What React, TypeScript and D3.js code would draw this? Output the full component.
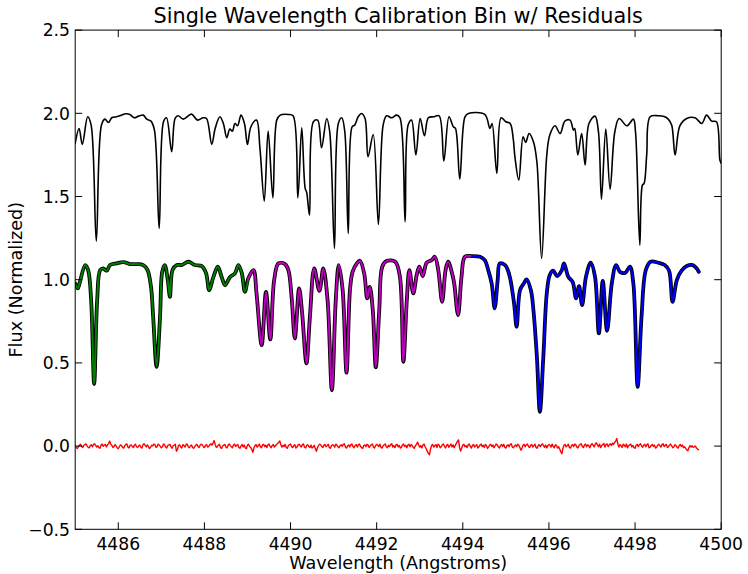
import React from 'react';
import * as d3 from 'd3';

// ---------- DATA ----------
const title = 'Single Wavelength Calibration Bin w/ Residuals';
const xLabel = 'Wavelength (Angstroms)';
const yLabel = 'Flux (Normalized)';
const xTicks = [4486, 4488, 4490, 4492, 4494, 4496, 4498, 4500];
const xTickLabels = ['4486', '4488', '4490', '4492', '4494', '4496', '4498', '4500'];
const yTicks = [-0.5, 0, 0.5, 1, 1.5, 2, 2.5];
const yTickLabels = ['\u22120.5', '0.0', '0.5', '1.0', '1.5', '2.0', '2.5'];

// template spectrum (offset by +1)
const templateSpectrum: [number, number][] = [
  [4485.00, 1.819], [4485.09, 1.909], [4485.165, 1.813], [4485.29, 1.979], [4485.37, 1.929],
  [4485.49, 1.232], [4485.61, 1.930], [4485.69, 1.965], [4485.77, 1.945], [4485.85, 1.973],
  [4485.96, 1.979], [4486.08, 1.989], [4486.17, 1.997], [4486.27, 1.993], [4486.37, 1.973],
  [4486.47, 1.983], [4486.58, 1.989], [4486.66, 1.965], [4486.76, 1.953], [4486.84, 1.899],
  [4486.95, 1.308], [4487.05, 1.949], [4487.12, 1.973], [4487.24, 1.769], [4487.32, 1.969],
  [4487.39, 1.985], [4487.51, 1.965], [4487.70, 1.995], [4487.84, 1.959], [4487.97, 1.973],
  [4488.05, 1.969], [4488.17, 1.813], [4488.25, 1.909], [4488.36, 1.979], [4488.44, 1.939],
  [4488.52, 1.853], [4488.59, 1.905], [4488.65, 1.893], [4488.71, 1.939], [4488.77, 1.925],
  [4488.85, 1.989], [4488.93, 1.939], [4489.00, 1.813], [4489.08, 1.919], [4489.21, 1.959],
  [4489.29, 1.789], [4489.39, 1.472], [4489.48, 1.893], [4489.59, 1.492], [4489.68, 1.959],
  [4489.76, 1.989], [4489.95, 1.993], [4490.06, 1.985], [4490.17, 1.492], [4490.26, 1.913],
  [4490.34, 1.549], [4490.375, 1.525], [4490.44, 1.388], [4490.53, 1.949], [4490.63, 1.959],
  [4490.72, 1.793], [4490.84, 1.969], [4490.91, 1.889], [4491.02, 1.188], [4491.11, 1.939],
  [4491.19, 1.973], [4491.26, 1.889], [4491.34, 1.278], [4491.43, 1.919], [4491.49, 1.929],
  [4491.57, 1.979], [4491.65, 1.999], [4491.73, 1.969], [4491.80, 1.739], [4491.92, 1.873],
  [4492.04, 1.332], [4492.15, 1.929], [4492.23, 1.985], [4492.35, 1.973], [4492.46, 1.989],
  [4492.54, 1.973], [4492.66, 1.348], [4492.73, 1.929], [4492.81, 1.959], [4492.91, 1.749],
  [4493.01, 1.969], [4493.11, 1.865], [4493.20, 1.973], [4493.32, 1.979], [4493.45, 1.985],
  [4493.56, 1.713], [4493.68, 1.979], [4493.78, 1.919], [4493.83, 1.909], [4493.93, 1.605],
  [4494.05, 1.979], [4494.13, 1.999], [4494.51, 1.993], [4494.63, 1.909], [4494.68, 1.939],
  [4494.79, 1.639], [4494.89, 1.973], [4495.00, 1.949], [4495.10, 1.939], [4495.17, 1.849],
  [4495.21, 1.739], [4495.30, 1.599], [4495.40, 1.859], [4495.46, 1.825], [4495.54, 1.879],
  [4495.64, 1.829], [4495.72, 1.709], [4495.83, 1.128], [4495.95, 1.749], [4496.02, 1.869],
  [4496.14, 1.925], [4496.26, 1.879], [4496.37, 1.953], [4496.49, 1.959], [4496.57, 1.899],
  [4496.60, 1.909], [4496.67, 1.749], [4496.76, 1.879], [4496.84, 1.689], [4496.93, 1.939],
  [4497.07, 1.983], [4497.15, 1.889], [4497.22, 1.484], [4497.32, 1.905], [4497.42, 1.544],
  [4497.53, 1.889], [4497.63, 1.969], [4497.81, 1.925], [4497.96, 1.965], [4498.01, 1.889],
  [4498.11, 1.208], [4498.17, 1.568], [4498.21, 1.579], [4498.27, 1.749], [4498.35, 1.979],
  [4498.54, 1.985], [4498.69, 1.979], [4498.77, 1.965], [4498.85, 1.929], [4498.93, 1.749],
  [4499.04, 1.925], [4499.20, 1.969], [4499.39, 1.973], [4499.55, 1.939], [4499.66, 1.989],
  [4499.78, 1.953], [4499.89, 1.949], [4499.97, 1.719], [4500.00, 1.700],
];

// model fit, first section (green)
const modelGreen: [number, number][] = [
  [4485.00, 0.978], [4485.06, 0.948], [4485.11, 0.987], [4485.23, 1.088], [4485.30, 1.058],
  [4485.37, 0.877], [4485.44, 0.373], [4485.51, 0.877], [4485.58, 1.058], [4485.65, 1.068],
  [4485.73, 1.054], [4485.81, 1.088], [4485.96, 1.098], [4486.12, 1.106], [4486.27, 1.094],
  [4486.43, 1.094], [4486.58, 1.088], [4486.68, 1.058], [4486.76, 0.957], [4486.81, 0.777],
  [4486.89, 0.477], [4486.97, 0.777], [4487.02, 1.047], [4487.08, 1.088], [4487.15, 0.998],
  [4487.20, 0.897], [4487.26, 1.058], [4487.36, 1.088], [4487.47, 1.088], [4487.63, 1.108],
  [4487.78, 1.088], [4487.94, 1.082], [4488.04, 1.038], [4488.11, 0.938], [4488.21, 1.017],
  [4488.31, 1.078], [4488.40, 1.017], [4488.48, 0.968], [4488.59, 1.014], [4488.71, 1.038],
  [4488.79, 1.088], [4488.87, 1.038], [4488.94, 0.927], [4489.02, 1.008],
];

// model fit, second section (magenta)
const modelMagenta: [number, number][] = [
  [4489.02, 1.008], [4489.14, 1.058], [4489.21, 0.918], [4489.33, 0.607], [4489.43, 0.927],
  [4489.53, 0.641], [4489.62, 0.998], [4489.72, 1.098], [4489.87, 1.094], [4489.95, 1.058],
  [4490.03, 0.877], [4490.10, 0.647], [4490.20, 0.948], [4490.27, 0.797], [4490.37, 0.497],
  [4490.45, 0.777], [4490.55, 1.068], [4490.67, 0.933], [4490.76, 1.068], [4490.86, 0.877],
  [4490.96, 0.337], [4491.05, 0.877], [4491.12, 1.088], [4491.21, 0.938], [4491.30, 0.441],
  [4491.38, 0.938], [4491.44, 1.047], [4491.54, 1.098], [4491.61, 1.114], [4491.71, 1.038],
  [4491.78, 0.888], [4491.84, 0.957], [4491.91, 0.817], [4491.98, 0.473], [4492.06, 0.817],
  [4492.13, 1.078], [4492.23, 1.112], [4492.43, 1.108], [4492.54, 1.017], [4492.62, 0.507],
  [4492.70, 0.877], [4492.76, 1.058], [4492.85, 0.918], [4492.93, 1.028], [4492.99, 1.078],
  [4493.07, 1.022], [4493.16, 1.102], [4493.28, 1.118], [4493.35, 1.138], [4493.43, 1.058],
  [4493.52, 0.867], [4493.60, 1.058], [4493.66, 1.108], [4493.76, 1.028], [4493.80, 0.978],
  [4493.89, 0.787], [4493.97, 1.017], [4494.05, 1.138], [4494.21, 1.142],
];

// model fit, third section (blue)
const modelBlue: [number, number][] = [
  [4494.21, 1.142], [4494.40, 1.138], [4494.51, 1.118], [4494.59, 1.058], [4494.67, 0.978],
  [4494.74, 0.828], [4494.81, 0.998], [4494.86, 1.098], [4494.98, 1.088], [4495.03, 1.068],
  [4495.10, 1.008], [4495.19, 0.858], [4495.25, 0.717], [4495.33, 0.938], [4495.42, 0.978],
  [4495.48, 1.002], [4495.58, 0.938], [4495.64, 0.817], [4495.72, 0.537], [4495.79, 0.206],
  [4495.87, 0.537], [4495.95, 0.918], [4496.02, 1.028], [4496.10, 1.054], [4496.19, 1.022],
  [4496.30, 1.058], [4496.35, 1.098], [4496.45, 1.017], [4496.55, 0.987], [4496.63, 0.888],
  [4496.70, 0.961], [4496.77, 0.847], [4496.86, 1.017], [4496.97, 1.102], [4497.07, 1.017],
  [4497.16, 0.677], [4497.25, 0.993], [4497.35, 0.693], [4497.46, 0.978], [4497.56, 1.088],
  [4497.65, 1.047], [4497.77, 1.041], [4497.88, 1.078], [4497.96, 0.978], [4498.06, 0.356],
  [4498.15, 0.777], [4498.25, 1.058], [4498.36, 1.108], [4498.54, 1.102], [4498.69, 1.088],
  [4498.79, 1.054], [4498.87, 0.867], [4498.97, 0.998], [4499.08, 1.054], [4499.20, 1.082],
  [4499.34, 1.088], [4499.43, 1.068], [4499.48, 1.047],
];

// residuals, sampled every 0.025 A from 4485.000
const residualStart = 4485.0;
const residualStep = 0.025;
const residuals = [
  0.004, -0.010, -0.014, -0.003, 0.006, 0.011, -0.002, -0.009, 0.005, 0.009, 0.013, 0.001, -0.007, -0.011, 0.003, 0.008, -0.004, 0.010, 0.014, 0.004,
  -0.006, 0.002, -0.009, -0.013, 0.007, 0.012, -0.001, 0.006, 0.010, -0.005, 0.008, 0.015, 0.030, 0.012, 0.004, -0.008, -0.003, 0.009, 0.002, -0.010,
  -0.016, -0.004, 0.007, 0.003, -0.008, -0.012, 0.001, 0.010, 0.013, -0.006, -0.011, 0.004, 0.007, -0.002, -0.009, 0.006, 0.011, -0.004, -0.008, 0.002,
  0.006, -0.007, -0.012, 0.009, 0.014, 0.003, -0.005, 0.008, -0.003, -0.015, -0.006, 0.005, 0.002, 0.011, 0.009, -0.007, -0.004, 0.012, 0.006, -0.002,
  -0.010, -0.004, 0.013, 0.008, -0.006, -0.012, 0.004, 0.007, 0.010, -0.003, -0.013, 0.002, 0.006, 0.011, -0.031, -0.020, 0.004, 0.007, -0.006, -0.012,
  0.009, 0.003, -0.006, 0.010, 0.013, -0.004, -0.010, 0.002, 0.007, -0.008, -0.013, -0.003, 0.006, 0.010, -0.002, -0.009, 0.005, 0.012, 0.008, -0.004,
  -0.009, 0.004, 0.010, -0.006, -0.002, 0.008, 0.014, 0.006, 0.018, 0.033, 0.010, -0.007, -0.004, 0.008, 0.011, -0.010, -0.014, 0.002, 0.006, 0.010,
  -0.006, -0.011, 0.005, 0.013, 0.003, -0.004, -0.010, 0.007, 0.012, -0.002, 0.005, 0.010, -0.008, -0.013, 0.001, 0.009, -0.005, 0.006, -0.011, -0.015,
  0.006, 0.011, -0.002, -0.008, -0.020, -0.037, -0.012, 0.004, 0.009, -0.006, 0.003, 0.012, -0.004, -0.010, 0.007, 0.011, -0.003, 0.005, -0.009, 0.008,
  0.013, -0.002, -0.010, 0.004, 0.009, -0.006, 0.002, 0.010, 0.016, 0.022, 0.031, 0.008, -0.006, 0.005, -0.003, 0.010, -0.008, -0.013, 0.004, 0.009,
  0.012, -0.004, -0.009, 0.003, 0.008, -0.012, -0.006, 0.007, 0.011, 0.002, -0.005, 0.009, 0.013, -0.007, -0.011, 0.004, 0.008, -0.003, -0.009, 0.006,
  -0.012, -0.006, 0.005, -0.015, -0.031, -0.010, 0.004, 0.012, 0.008, -0.002, -0.009, 0.006, 0.010, -0.004, 0.003, 0.011, -0.008, -0.013, 0.002, 0.009,
  0.005, -0.007, 0.012, 0.006, -0.004, -0.010, 0.003, 0.008, -0.002, 0.010, 0.014, -0.006, -0.012, 0.001, 0.007, -0.005, 0.009, 0.012, -0.003, -0.010,
  0.004, 0.010, -0.006, 0.008, 0.013, -0.002, -0.009, -0.014, 0.003, 0.007, -0.004, 0.011, 0.006, -0.008, 0.002, 0.009, 0.012, -0.005, -0.011, 0.004,
  0.010, 0.006, -0.003, 0.012, -0.007, -0.012, 0.002, 0.008, 0.013, -0.004, -0.010, 0.005, -0.002, 0.009, 0.014, -0.006, 0.003, -0.009, 0.007, 0.011,
  -0.005, 0.004, -0.012, -0.007, 0.008, 0.012, -0.002, 0.005, -0.010, 0.006, 0.011, -0.004, 0.009, 0.003, -0.008, -0.013, 0.004, 0.010, 0.024, 0.008,
  -0.006, 0.003, -0.011, 0.007, 0.012, -0.004, -0.016, -0.030, -0.044, -0.052, -0.020, 0.004, 0.010, -0.006, 0.002, 0.009, -0.008, 0.012, 0.005, -0.010,
  -0.004, 0.008, 0.013, -0.003, -0.011, 0.006, 0.010, -0.007, 0.002, 0.012, -0.005, 0.007, -0.010, 0.004, 0.016, 0.028, 0.037, -0.008, -0.030, -0.012,
  0.006, 0.011, -0.004, 0.003, -0.009, 0.008, 0.013, -0.002, -0.012, 0.005, 0.010, -0.006, 0.002, 0.009, -0.011, -0.004, 0.007, 0.012, -0.003, 0.005,
  -0.008, 0.010, 0.004, -0.014, -0.006, 0.008, 0.011, -0.003, 0.006, -0.010, 0.002, 0.013, 0.007, -0.005, -0.011, 0.004, 0.009, -0.002, 0.011, -0.007,
  -0.012, 0.003, 0.008, -0.004, 0.010, 0.014, -0.006, -0.010, 0.002, 0.007, -0.003, 0.011, 0.005, -0.009, -0.025, -0.012, 0.006, 0.010, -0.004, 0.008,
  0.013, -0.002, -0.009, 0.005, 0.010, -0.006, 0.003, 0.012, -0.008, -0.013, 0.004, 0.009, -0.003, 0.007, 0.014, 0.002, -0.007, 0.006, -0.011, 0.003,
  0.010, 0.005, -0.006, 0.012, -0.003, -0.010, 0.008, 0.004, -0.012, -0.004, -0.018, -0.034, -0.046, -0.014, 0.006, 0.010, -0.005, 0.003, 0.011, -0.008,
  -0.012, 0.004, 0.009, -0.003, 0.013, 0.007, -0.006, -0.011, 0.005, 0.010, 0.014, -0.002, -0.009, 0.006, 0.012, -0.004, 0.008, 0.003, -0.010, 0.007,
  0.015, 0.006, -0.005, 0.011, 0.020, 0.008, -0.004, 0.012, -0.009, 0.003, 0.010, 0.016, -0.006, 0.009, 0.013, -0.003, 0.007, 0.014, 0.004, 0.018,
  0.010, 0.022, 0.030, 0.046, 0.012, -0.006, 0.009, 0.003, -0.008, 0.011, 0.006, -0.004, 0.013, -0.010, 0.002, 0.008, 0.012, -0.005, 0.004, -0.009,
  -0.013, 0.006, 0.010, -0.003, 0.008, 0.014, 0.002, -0.007, 0.005, 0.011, -0.004, 0.009, 0.013, -0.010, -0.006, 0.004, 0.010, -0.002, 0.006, -0.012,
  -0.008, 0.005, 0.011, 0.003, -0.006, 0.009, 0.014, -0.003, 0.006, 0.010, -0.009, -0.004, 0.007, 0.012, 0.002, -0.010, -0.005, 0.008, 0.003, -0.007,
  -0.012, 0.004, 0.010, -0.002, 0.006, -0.009, -0.004, -0.014, -0.022, -0.028, -0.010, 0.003, -0.006, 0.002, -0.008, -0.004, 0.001, -0.012, -0.018, -0.022,
];

// ---------- CHART ----------
const W = 748;
const H = 574;
const left = 75.2;
const right = 721.2;
const top = 30.1;
const bottom = 529.3;
const FONT = 'DejaVu Sans, sans-serif';

export default function App() {
  const x = d3.scaleLinear().domain([4485, 4500]).range([left, right]);
  const y = d3.scaleLinear().domain([-0.5, 2.5]).range([bottom, top]);

  const smooth = d3
    .line<[number, number]>()
    .x((d) => x(d[0]))
    .y((d) => y(d[1]))
    .curve(d3.curveCatmullRom.alpha(0.5));

  const straight = d3
    .line<number>()
    .x((_, i) => x(residualStart + i * residualStep))
    .y((d) => y(d))
    .curve(d3.curveLinear);

  const observed = [...modelGreen, ...modelMagenta.slice(1), ...modelBlue.slice(1)];
  const tickLen = 7;

  return (
    <div style={{ position: 'fixed', left: 0, top: 0, width: W, height: H, background: '#fff' }}>
      <svg width={W} height={H} style={{ display: 'block' }} fontFamily={FONT}>
        <defs>
          <clipPath id="plotClip">
            <rect x={left} y={top} width={right - left} height={bottom - top} />
          </clipPath>
        </defs>
        <rect x={0} y={0} width={W} height={H} fill="#fff" />

        <g clipPath="url(#plotClip)" fill="none" strokeLinejoin="round" strokeLinecap="round">
          <path d={smooth(templateSpectrum) || ''} stroke="#000" strokeWidth={1.6} />
          <path d={smooth(observed) || ''} stroke="#000" strokeWidth={3.8} />
          <path d={smooth(modelGreen) || ''} stroke="#008000" strokeWidth={2} />
          <path d={smooth(modelMagenta) || ''} stroke="#bf00bf" strokeWidth={2} />
          <path d={smooth(modelBlue) || ''} stroke="#0000ff" strokeWidth={2} />
          <path d={straight(residuals) || ''} stroke="#ff0000" strokeWidth={1.4} />
        </g>

        {/* frame */}
        <rect x={left} y={top} width={right - left} height={bottom - top} fill="none" stroke="#000" strokeWidth={1} />

        {/* x ticks */}
        {xTicks.map((t, i) => (
          <g key={'xt' + t}>
            <line x1={x(t)} x2={x(t)} y1={bottom} y2={bottom - tickLen} stroke="#000" strokeWidth={1} />
            <line x1={x(t)} x2={x(t)} y1={top} y2={top + tickLen} stroke="#000" strokeWidth={1} />
            <text x={x(t)} y={549.5} fontSize={17.2} textAnchor="middle" fill="#000">
              {xTickLabels[i]}
            </text>
          </g>
        ))}

        {/* y ticks */}
        {yTicks.map((t, i) => (
          <g key={'yt' + t}>
            <line x1={left} x2={left + tickLen} y1={y(t)} y2={y(t)} stroke="#000" strokeWidth={1} />
            <line x1={right} x2={right - tickLen} y1={y(t)} y2={y(t)} stroke="#000" strokeWidth={1} />
            <text x={70} y={y(t) + 6.2} fontSize={17.2} textAnchor="end" fill="#000">
              {yTickLabels[i]}
            </text>
          </g>
        ))}

        <text x={(left + right) / 2} y={23} fontSize={20.8} textAnchor="middle" fill="#000">
          {title}
        </text>
        <text x={(left + right) / 2} y={569} fontSize={17.6} textAnchor="middle" fill="#000">
          {xLabel}
        </text>
        <text
          transform={`translate(22, ${(top + bottom) / 2}) rotate(-90)`}
          fontSize={17.6}
          textAnchor="middle"
          fill="#000"
        >
          {yLabel}
        </text>
      </svg>
    </div>
  );
}
